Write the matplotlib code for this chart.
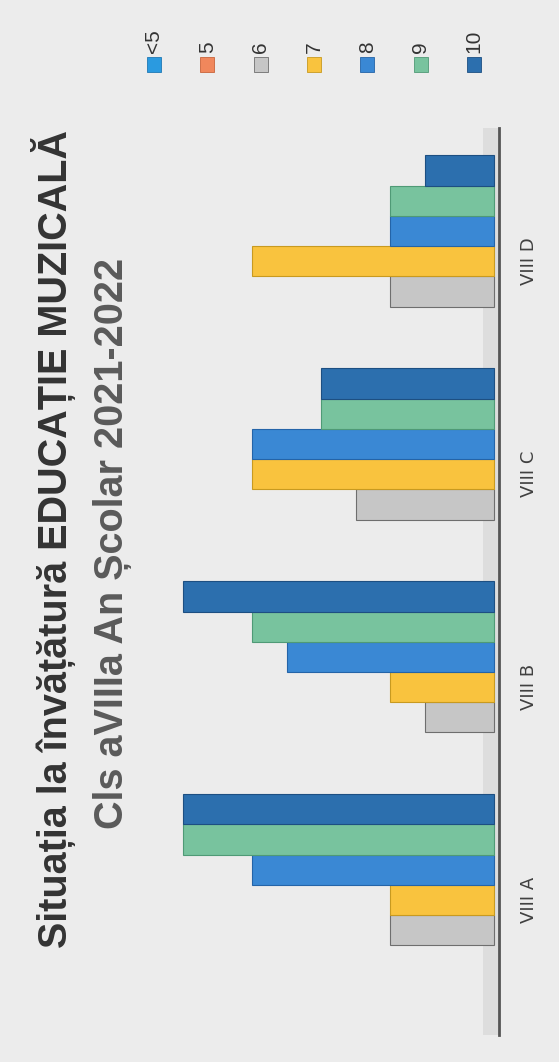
import numpy as np
import matplotlib.pyplot as plt
from matplotlib.patches import Rectangle

# ---------------------------------------------------------------------------
# Data
# ---------------------------------------------------------------------------
classes = ['VIII A', 'VIII B', 'VIII C', 'VIII D']
grades = ['<5', '5', '6', '7', '8', '9', '10']

n_sub5 = [0, 0, 0, 0]
n_5 = [0, 0, 0, 0]
n_6 = [3, 2, 4, 3]
n_7 = [3, 3, 7, 7]
n_8 = [7, 6, 7, 3]
n_9 = [9, 7, 5, 3]
n_10 = [9, 9, 5, 2]
series = [n_sub5, n_5, n_6, n_7, n_8, n_9, n_10]

colors = ['#2a9ae0', '#f0875c', '#c6c6c6', '#f9c33e', '#3a88d4', '#78c39e', '#2c6fae']
edges = ['#1f78b4', '#c8643a', '#6e6e6e', '#c89a20', '#2464a8', '#4f9a76', '#1d4f82']

title1 = 'Situația la învățătură EDUCAȚIE MUZICALĂ'
title2 = 'Cls aVIIIa An Școlar 2021-2022'

# ---------------------------------------------------------------------------
# Figure (chart is printed rotated 90°)
# ---------------------------------------------------------------------------
W, H = 559, 1062
fig = plt.figure(figsize=(W / 100, H / 100), dpi=100, facecolor='#ececec')
ax = fig.add_axes([100 / W, 27 / H, 399 / W, 907 / H])
ax.set_facecolor('none')

bar_h = 0.142
y = np.arange(len(classes))
for i, (vals, col, ec) in enumerate(zip(series, colors, edges)):
    lws = [0.8 if v > 0 else 0 for v in vals]
    ax.barh(y + (i - 3) * bar_h, vals, height=bar_h, color=col,
            edgecolor=ec, linewidth=lws, zorder=3)

# 3D floor strip along the category axis
ax.axvspan(-0.15, 0.3, color='#dddddd', zorder=1, lw=0)

ax.set_xlim(11.42, -0.15)
ax.set_ylim(-0.634, 3.626)

for s in ['left', 'top', 'bottom']:
    ax.spines[s].set_visible(False)
ax.spines['right'].set_color('#555555')
ax.spines['right'].set_linewidth(2)
ax.set_xticks([])
ax.yaxis.tick_right()
ax.set_yticks(y)
ax.set_yticklabels(classes, rotation=90, va='center', ha='left',
                   fontsize=13, color='#404040')
ax.tick_params(axis='y', length=0, pad=15)

# Titles
fig.text(54 / W, 1 - 539 / H, title1, rotation=90, ha='center', va='center',
         fontsize=28.5, fontweight='bold', color='#333333',
         family='Liberation Sans')
fig.text(113 / W, 1 - 543 / H, title2, rotation=90, ha='center', va='center',
         fontsize=28.5, fontweight='bold', color='#5a5a5a',
         family='Liberation Sans')

# Legend (rotated, drawn by hand)
leg_x0, leg_dx = 154, 53.3
for i, (g, col, ec) in enumerate(zip(grades, colors, edges)):
    cx = leg_x0 + i * leg_dx
    fig.patches.append(Rectangle(((cx - 7) / W, 1 - 72 / H), 14 / W, 15 / H,
                                 transform=fig.transFigure, facecolor=col,
                                 edgecolor=ec, lw=0.6))
    fig.text(cx / W, 1 - 53 / H, g, rotation=90, ha='center', va='bottom',
             fontsize=15, color='#333333', family='Liberation Sans')

plt.savefig('out.png', dpi=100, facecolor=fig.get_facecolor())
plt.close()
